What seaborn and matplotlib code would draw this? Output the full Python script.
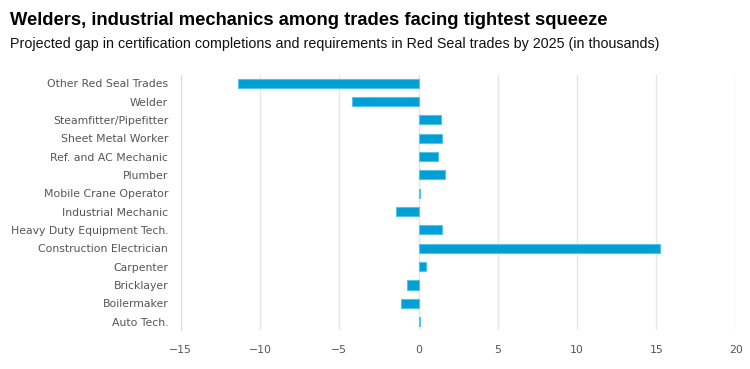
import seaborn as sns
import matplotlib.pyplot as plt
import pandas as pd

trades = ["Other Red Seal Trades", "Welder", "Steamfitter/Pipefitter", "Sheet Metal Worker",
          "Ref. and AC Mechanic", "Plumber", "Mobile Crane Operator", "Industrial Mechanic",
          "Heavy Duty Equipment Tech.", "Construction Electrician", "Carpenter", "Bricklayer",
          "Boilermaker", "Auto Tech."]
gap = [-11.4, -4.2, 1.4, 1.5, 1.2, 1.65, 0.1, -1.4, 1.5, 15.2, 0.45, -0.75, -1.1, 0.1]
xticks = [-15, -10, -5, 0, 5, 10, 15, 20]

df = pd.DataFrame({'trade': trades, 'gap': gap})

sns.set_style("white")
fig = plt.figure(figsize=(7.5, 3.69), dpi=100)
ax = fig.add_axes([0.241, 0.106, 0.74, 0.691])

sns.barplot(data=df, x='gap', y='trade', color='#009fd4', width=0.5,
            saturation=1, orient='h', edgecolor='#55c2e8', linewidth=0.8, ax=ax)

ax.set_xlim(-15, 20)
ax.set_ylim(13.45, -0.45)
ax.set_xticks(xticks)
ax.set_xticklabels([str(t).replace('-', '\u2212') for t in xticks])
ax.xaxis.grid(True, color='#e6e6e6', linewidth=1)
ax.set_axisbelow(True)
for s in ['top', 'right', 'bottom']:
    ax.spines[s].set_visible(False)
ax.spines['left'].set_color('#d8d8e0')
ax.tick_params(axis='both', length=0, labelsize=7.8, labelcolor='#555555')
ax.tick_params(axis='y', pad=9)
ax.tick_params(axis='x', pad=11)
ax.set_xlabel('')
ax.set_ylabel('')

fig.text(0.013, 0.945, "Welders, industrial mechanics among trades facing tightest squeeze",
         fontsize=13.2, fontweight='bold', family='Liberation Sans', va='center', color='black')
fig.text(0.013, 0.88, "Projected gap in certification completions and requirements in Red Seal trades by 2025 (in thousands)",
         fontsize=10.3, family='Liberation Sans', va='center', color='#111111')

fig.savefig('out.png', dpi=100)
